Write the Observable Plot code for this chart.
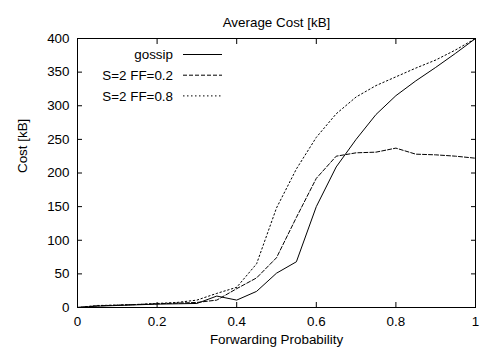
<!DOCTYPE html>
<html>
<head>
<meta charset="utf-8">
<script src="https://cdn.jsdelivr.net/npm/d3@7"></script>
<script src="https://cdn.jsdelivr.net/npm/@observablehq/plot@0.6"></script>
<style>
  html, body { margin: 0; padding: 0; background: #fff; }
  #chart { width: 484px; height: 351px; }
</style>
</head>
<body>
<div id="chart"></div>
<script>
const forwardingProbability = [0, 0.05, 0.1, 0.15, 0.2, 0.25, 0.3, 0.35, 0.4, 0.45, 0.5, 0.55, 0.6, 0.65, 0.7, 0.75, 0.8, 0.85, 0.9, 0.95, 1];
const gossip = [0, 2, 3, 4, 5, 5.5, 6, 17, 11, 24, 51, 68, 150, 209, 250, 287, 315, 337, 357, 378, 400];
const s2ff02 = [0, 2.5, 3.5, 4.5, 5.5, 6.5, 7.5, 11, 28, 44, 74, 134, 192, 225, 230, 231, 237, 228, 227, 225, 222];
const s2ff08 = [0, 3, 3.5, 4.5, 6, 7.5, 11, 21, 30, 65, 148, 206, 253, 288, 313, 330, 343, 356, 368, 383, 400];
const seriesNames = ["gossip", "S=2 FF=0.2", "S=2 FF=0.8"];
const seriesDash = [null, "4,2", "1.5,2.5"];
const xTicks = [0, 0.2, 0.4, 0.6, 0.8, 1];
const yTicks = [0, 50, 100, 150, 200, 250, 300, 350, 400];
const titleText = "Average Cost [kB]";
const xLabel = "Forwarding Probability";
const yLabel = "Cost [kB]";

const seriesValues = [gossip, s2ff02, s2ff08];
const rows = seriesValues.map(vals => forwardingProbability.map((x, i) => ({x, y: vals[i]})));

const font = "'Liberation Sans', Arial, Helvetica, sans-serif";

const chart = Plot.plot({
  width: 484,
  height: 351,
  marginLeft: 77,
  marginRight: 9,
  marginTop: 38,
  marginBottom: 44,
  style: {fontFamily: font, fontSize: "13.4px", background: "#fff", color: "#000"},
  x: {domain: [0, 1]},
  y: {domain: [0, 400]},
  marks: [
    Plot.axisX({ticks: xTicks, anchor: "bottom", tickSize: 0, tickPadding: 9, tickFormat: d => String(d), label: null}),
    Plot.axisY({ticks: yTicks, anchor: "left", tickSize: 0, tickPadding: 8, tickFormat: d => String(d), label: null}),
    Plot.axisX({ticks: xTicks, anchor: "bottom", tickSize: -5, tickFormat: () => "", label: null}),
    Plot.axisX({ticks: xTicks, anchor: "top", tickSize: -5, tickFormat: () => "", label: null}),
    Plot.axisY({ticks: yTicks, anchor: "left", tickSize: -5, tickFormat: () => "", label: null}),
    Plot.axisY({ticks: yTicks, anchor: "right", tickSize: -5, tickFormat: () => "", label: null}),
    ...rows.map((r, i) => Plot.line(r, {x: "x", y: "y", stroke: "#000", strokeWidth: 1, strokeDasharray: seriesDash[i]})),
    Plot.frame({stroke: "#000", strokeWidth: 1}),
    Plot.text([titleText], {frameAnchor: "top", dy: -21, fontSize: 13.4, fill: "#000"}),
    Plot.text([xLabel], {frameAnchor: "bottom", dy: 36, fontSize: 13.4, fill: "#000"}),
    Plot.text([yLabel], {frameAnchor: "left", dx: -55, rotate: -90, fontSize: 13.4, fill: "#000"})
  ]
});

document.getElementById("chart").appendChild(chart);

const svg = d3.select(chart);
const key = svg.append("g").attr("font-family", font).attr("font-size", 13.4);
seriesNames.forEach((name, i) => {
  const cy = 54.5 + i * 20.7;
  key.append("text").attr("x", 173).attr("y", cy).attr("dy", "0.35em")
    .attr("text-anchor", "end").attr("fill", "#000").text(name);
  key.append("line").attr("x1", 183).attr("x2", 222).attr("y1", cy).attr("y2", cy)
    .attr("stroke", "#000").attr("stroke-width", 1)
    .attr("stroke-dasharray", seriesDash[i]);
});
</script>
</body>
</html>
